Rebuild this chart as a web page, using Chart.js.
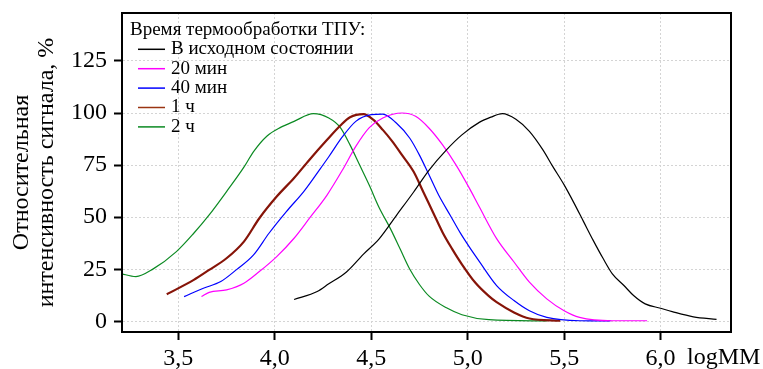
<!DOCTYPE html>
<html>
<head>
<meta charset="utf-8">
<script src="https://cdn.jsdelivr.net/npm/chart.js@4/dist/chart.umd.min.js"></script>
<style>
  html, body { margin: 0; padding: 0; background: #fff; }
  #wrap { width: 763px; height: 369px; }
</style>
</head>
<body>
<div id="wrap"><canvas id="myChart"></canvas></div>
<script>
// series (logMM, relative signal %)
const x_init = [4.10, 4.22, 4.28, 4.37, 4.46, 4.54, 4.63, 4.72, 4.80, 4.89, 4.97, 5.06, 5.12, 5.18, 5.25, 5.32, 5.39, 5.44, 5.50, 5.55, 5.60, 5.65, 5.70, 5.75, 5.81, 5.86, 5.92, 6.00, 6.06, 6.17, 6.29]
const y_init = [10.5, 14.3, 18, 23.6, 32.3, 39.5, 50.8, 62.1, 72.6, 82.3, 89.5, 95.5, 98, 99.7, 97, 91.2, 82.3, 74.5, 65.5, 57, 48, 39, 30.5, 22.8, 17.2, 12.4, 8.4, 6.3, 4.7, 2.2, 1]

const x_20min = [3.62, 3.66, 3.75, 3.84, 3.92, 4.01, 4.10, 4.18, 4.27, 4.35, 4.42, 4.49, 4.56, 4.66, 4.73, 4.80, 4.87, 4.94, 5.01, 5.06, 5.15, 5.24, 5.32, 5.41, 5.50, 5.58, 5.75, 5.93]
const y_20min = [11.9, 13.9, 15.1, 18.3, 23.9, 31.1, 39.9, 49.5, 60.5, 72.5, 84, 93, 97.6, 100, 98.4, 92.7, 84.7, 75, 63.7, 55, 39.7, 28.5, 18.8, 10.8, 5.1, 1.9, 0.3, 0.3]

const x_40min = [3.53, 3.63, 3.72, 3.80, 3.89, 3.97, 4.06, 4.15, 4.23, 4.28, 4.35, 4.42, 4.50, 4.56, 4.63, 4.70, 4.75, 4.80, 4.85, 4.91, 4.96, 5.01, 5.06, 5.15, 5.24, 5.32, 5.41, 5.58, 5.74]
const y_40min = [11.9, 15.9, 19.1, 24.7, 31.9, 42.3, 52.7, 62.3, 72.5, 79, 88.5, 96, 99.2, 99.5, 95.2, 87.9, 79.8, 70.2, 60.5, 50.8, 42.7, 35.5, 28.8, 17.2, 10, 5.1, 1.9, 0.3, 0.2]

const x_1h = [3.44, 3.58, 3.66, 3.75, 3.84, 3.92, 4.01, 4.10, 4.18, 4.27, 4.34, 4.39, 4.46, 4.51, 4.56, 4.61, 4.66, 4.72, 4.77, 4.82, 4.87, 4.92, 4.97, 5.04, 5.11, 5.15, 5.24, 5.32, 5.48]
const y_1h = [13, 19.9, 24.7, 30.3, 38.3, 49.5, 59.9, 68.8, 77.6, 87, 94, 98, 99.5, 96.8, 91.9, 86.3, 79.8, 71.8, 62.1, 52.4, 42.7, 34.7, 27.4, 18.5, 12.1, 9.2, 4.3, 1.4, 0.3]

const x_2h = [3.20, 3.28, 3.37, 3.49, 3.58, 3.66, 3.75, 3.84, 3.89, 3.96, 4.03, 4.10, 4.20, 4.28, 4.34, 4.39, 4.44, 4.49, 4.54, 4.60, 4.65, 4.70, 4.75, 4.80, 4.89, 4.97, 5.11, 5.41]
const y_2h = [23, 21.5, 25.2, 33.5, 42.3, 51.1, 62.3, 74, 81.5, 89, 93.1, 96, 99.7, 97.6, 93, 84.7, 75, 65.3, 54.8, 44.4, 34.7, 25, 17.7, 12.1, 6.5, 3.2, 0.8, 0.2]

const seriesLabels = ['В исходном состоянии', '20 мин', '40 мин', '1 ч', '2 ч']
const legendTitle = 'Время термообработки ТПУ:'
const xTicks = [3.5, 4.0, 4.5, 5.0, 5.5, 6.0]
const yTicks = [0, 25, 50, 75, 100, 125]

const serif = "'Liberation Serif', 'Times New Roman', serif"

const pts = (xs, ys) => xs.map((x, i) => ({x: x, y: ys[i]}))

function line(label, xs, ys, color, width) {
    return {
        label: label,
        data: pts(xs, ys),
        borderColor: color,
        backgroundColor: color,
        borderWidth: width,
        pointRadius: 0,
        fill: false,
        cubicInterpolationMode: 'monotone',
    }
}

const data = {
    datasets: [
        line(seriesLabels[0], x_init, y_init, '#000000', 1.2),
        line(seriesLabels[1], x_20min, y_20min, '#ff00ff', 1.2),
        line(seriesLabels[2], x_40min, y_40min, '#0000ff', 1.2),
        line(seriesLabels[3], x_1h, y_1h, '#861408', 2.2),
        line(seriesLabels[4], x_2h, y_2h, '#0b8a22', 1.2),
    ]
}

// frame, legend in the plot, axis unit next to last tick
const extras = {
    id: 'extras',
    afterDatasetsDraw(chart) {
        const {ctx, chartArea: a} = chart
        ctx.save()
        ctx.strokeStyle = '#000'
        ctx.lineWidth = 2
        ctx.strokeRect(a.left, a.top, a.right - a.left, a.bottom - a.top)

        ctx.font = '19px ' + serif
        ctx.textBaseline = 'middle'
        ctx.fillStyle = '#000'
        ctx.fillText(legendTitle, a.left + 8, a.top + 17)
        chart.data.datasets.forEach((ds, i) => {
            const y = a.top + 36.3 + i * 19.4
            ctx.strokeStyle = i == 3 ? '#9a3412' : ds.borderColor
            ctx.lineWidth = 1.5
            ctx.beginPath()
            ctx.moveTo(a.left + 16, y)
            ctx.lineTo(a.left + 43, y)
            ctx.stroke()
            ctx.fillText(ds.label, a.left + 49, y)
        })

        ctx.font = '24px ' + serif
        ctx.textBaseline = 'middle'
        ctx.fillText('logMM', 687, 358)
        ctx.restore()
    }
}

const config = {
    type: 'line',
    data: data,
    options: {
        responsive: true,
        maintainAspectRatio: false,
        animation: false,
        layout: { padding: {top: 13, right: 32, left: 0, bottom: 0} },
        plugins: {
            legend: { display: false },
            tooltip: { enabled: false },
        },
        scales: {
            x: {
                type: 'linear',
                min: 3.208,
                max: 6.365,
                afterBuildTicks: (s) => { s.ticks = xTicks.map(v => ({value: v})) },
                afterFit: (s) => { s.height = 37; s.paddingLeft = 0; s.paddingRight = 0 },
                ticks: {
                    color: '#000',
                    font: {family: serif, size: 24},
                    padding: 4,
                    maxRotation: 0,
                    callback: (v) => v.toFixed(1).replace('.', ','),
                },
                grid: {
                    color: '#d4d4d4',
                    lineWidth: 1,
                    tickColor: '#000',
                    tickWidth: 2,
                    tickLength: 8,
                    tickBorderDash: [],
                },
                border: { display: true, color: '#000', width: 2, dash: [2, 2] },
            },
            y: {
                min: -5.1,
                max: 148,
                afterBuildTicks: (s) => { s.ticks = yTicks.map(v => ({value: v})) },
                afterFit: (s) => { s.width = 122; s.paddingTop = 0; s.paddingBottom = 0 },
                ticks: {
                    color: '#000',
                    font: {family: serif, size: 24},
                    padding: 7,
                },
                grid: {
                    color: '#d4d4d4',
                    lineWidth: 1,
                    tickColor: '#000',
                    tickWidth: 2,
                    tickLength: 8,
                    tickBorderDash: [],
                },
                border: { display: true, color: '#000', width: 2, dash: [2, 2] },
                title: {
                    display: true,
                    text: ['Относительная', 'интенсивность сигнала, %'],
                    color: '#000',
                    font: {family: serif, size: 24, lineHeight: 1.05},
                    padding: {top: 9, bottom: 0},
                },
            },
        },
    },
    plugins: [extras],
}

const myChart = new Chart(document.getElementById('myChart').getContext('2d'), config)
</script>
</body>
</html>
